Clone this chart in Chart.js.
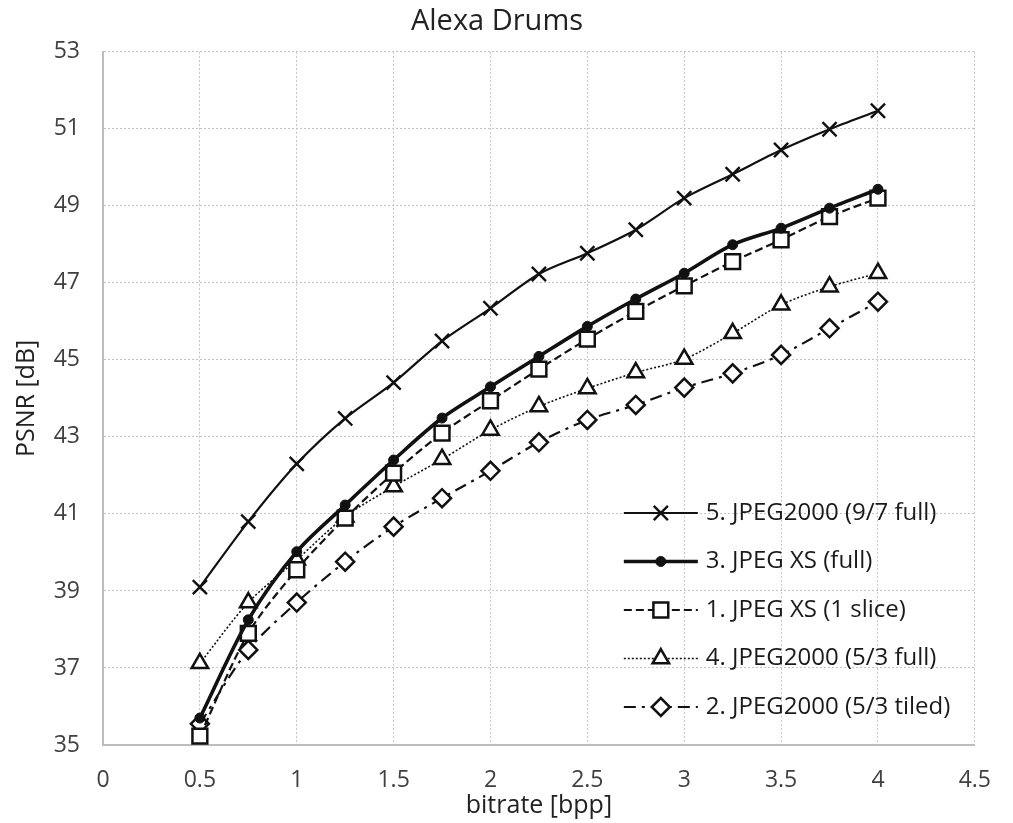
<!DOCTYPE html>
<html lang="en">
<head>
  <meta charset="UTF-8">
  <title>Alexa Drums</title>
  <script src="https://cdn.jsdelivr.net/npm/chart.js"></script>
  <style>
    body { margin: 0; background: #fff; }
    .chart-box { width: 1013px; height: 823px; position: relative; }
  </style>
</head>
<body>
  <div class="chart-box">
    <canvas id="psnrChart"></canvas>
  </div>

<script>
  // bitrate in bpp, PSNR in dB
  const bitrate = [0.5, 0.75, 1, 1.25, 1.5, 1.75, 2, 2.25, 2.5, 2.75, 3, 3.25, 3.5, 3.75, 4];
  const j2k97Full  = [39.1, 40.8, 42.3, 43.48, 44.41, 45.49, 46.34, 47.23, 47.77, 48.38, 49.2, 49.82, 50.45, 50.99, 51.47];
  const xsFull     = [35.7, 38.25, 40.02, 41.23, 42.4, 43.49, 44.3, 45.09, 45.87, 46.58, 47.25, 47.99, 48.42, 48.94, 49.43];
  const xsSlice    = [35.23, 37.9, 39.55, 40.89, 42.06, 43.1, 43.94, 44.76, 45.54, 46.26, 46.92, 47.55, 48.12, 48.72, 49.2];
  const j2k53Full  = [37.12, 38.7, 39.81, 40.93, 41.71, 42.42, 43.18, 43.79, 44.26, 44.67, 45.02, 45.69, 46.43, 46.9, 47.25];
  const j2k53Tiled = [35.55, 37.47, 38.7, 39.76, 40.67, 41.41, 42.12, 42.86, 43.44, 43.83, 44.28, 44.65, 45.13, 45.82, 46.51];

  const seriesLabels = [
    '5. JPEG2000 (9/7 full)',
    '3. JPEG XS (full)',
    '1. JPEG XS (1 slice)',
    '4. JPEG2000 (5/3 full)',
    '2. JPEG2000 (5/3 tiled)'
  ];

  const FONT = '"Open Sans", sans-serif';
  const INK = '#111';

  function toPoints(values) {
    return bitrate.map((b, i) => ({ x: b, y: values[i] }));
  }

  function makeSet(label, values, style) {
    return Object.assign({
      label: label,
      data: toPoints(values),
      borderColor: INK,
      pointBorderColor: INK,
      pointBackgroundColor: '#fff',
      fill: false,
      tension: 0.3
    }, style);
  }

  // draws the legend inside the plot, line sample + marker like the original
  const insideLegend = {
    id: 'insideLegend',
    afterDraw(chart) {
      const { ctx, chartArea } = chart;
      const x0 = chartArea.right - 351;
      const x1 = x0 + 74;
      let y = chartArea.bottom - 232;
      chart.data.datasets.forEach(ds => {
        ctx.save();
        ctx.strokeStyle = ds.borderColor;
        ctx.lineWidth = ds.borderWidth;
        ctx.setLineDash(ds.borderDash || []);
        ctx.beginPath();
        ctx.moveTo(x0, y);
        ctx.lineTo(x1, y);
        ctx.stroke();
        ctx.setLineDash([]);
        ctx.fillStyle = ds.pointBackgroundColor;
        ctx.strokeStyle = ds.pointBorderColor;
        ctx.lineWidth = ds.pointBorderWidth;
        Chart.helpers.drawPoint(ctx, {
          pointStyle: ds.pointStyle,
          radius: ds.pointRadius,
          borderWidth: ds.pointBorderWidth,
          rotation: 0
        }, (x0 + x1) / 2, y);
        ctx.fillStyle = '#1a1a1a';
        ctx.font = '24px ' + FONT;
        ctx.textBaseline = 'middle';
        ctx.fillText(ds.label, x1 + 8, y);
        ctx.restore();
        y += 48.5;
      });
    }
  };

  window.onload = () => {
    const ctx = document.getElementById('psnrChart').getContext('2d');
    new Chart(ctx, {
      type: 'line',
      data: {
        datasets: [
          makeSet(seriesLabels[0], j2k97Full, {
            borderWidth: 2.2, pointStyle: 'crossRot', pointRadius: 10, pointBorderWidth: 2.4
          }),
          makeSet(seriesLabels[1], xsFull, {
            borderWidth: 3.6, pointStyle: 'circle', pointRadius: 5, pointBorderWidth: 1,
            pointBackgroundColor: INK
          }),
          makeSet(seriesLabels[2], xsSlice, {
            borderWidth: 2.2, borderDash: [8, 4], pointStyle: 'rect', pointRadius: 10.5, pointBorderWidth: 2.5
          }),
          makeSet(seriesLabels[3], j2k53Full, {
            borderWidth: 1.6, borderDash: [2, 2], pointStyle: 'triangle', pointRadius: 9.5, pointBorderWidth: 2.5
          }),
          makeSet(seriesLabels[4], j2k53Tiled, {
            borderWidth: 2.2, borderDash: [12, 6, 3, 6], pointStyle: 'rectRot', pointRadius: 9, pointBorderWidth: 2.5
          })
        ]
      },
      options: {
        responsive: true,
        maintainAspectRatio: false,
        animation: false,
        layout: { padding: { top: 0, right: 19, bottom: 0, left: 0 } },
        plugins: {
          legend: { display: false },
          tooltip: { enabled: false },
          title: {
            display: true,
            text: 'Alexa Drums',
            color: '#222',
            font: { family: FONT, size: 29, weight: 'normal' },
            padding: { top: 4, bottom: 13 }
          }
        },
        scales: {
          x: {
            type: 'linear',
            min: 0,
            max: 4.5,
            afterFit: s => { s.height = 78; },
            border: { color: '#bdbdbd', width: 2, dash: [2, 2] },
            grid: { color: '#c4c4c4', drawTicks: false },
            ticks: {
              stepSize: 0.5,
              padding: 22,
              color: '#404040',
              font: { family: FONT, size: 23 },
              callback: v => String(+v.toFixed(2))
            },
            title: {
              display: true,
              text: 'bitrate [bpp]',
              color: '#222',
              font: { family: FONT, size: 25 },
              padding: { top: 2, bottom: 2 }
            }
          },
          y: {
            min: 35,
            max: 53,
            afterFit: s => { s.width = 103; },
            border: { color: '#bdbdbd', width: 2, dash: [2, 2] },
            grid: { color: '#c4c4c4', drawTicks: false },
            ticks: {
              stepSize: 2,
              padding: 23,
              color: '#404040',
              font: { family: FONT, size: 23 },
              callback: v => String(v)
            },
            title: {
              display: true,
              text: 'PSNR [dB]',
              color: '#222',
              font: { family: FONT, size: 25 },
              padding: { top: 12, bottom: 4 }
            }
          }
        }
      },
      plugins: [insideLegend]
    });
  };
</script>
</body>
</html>
